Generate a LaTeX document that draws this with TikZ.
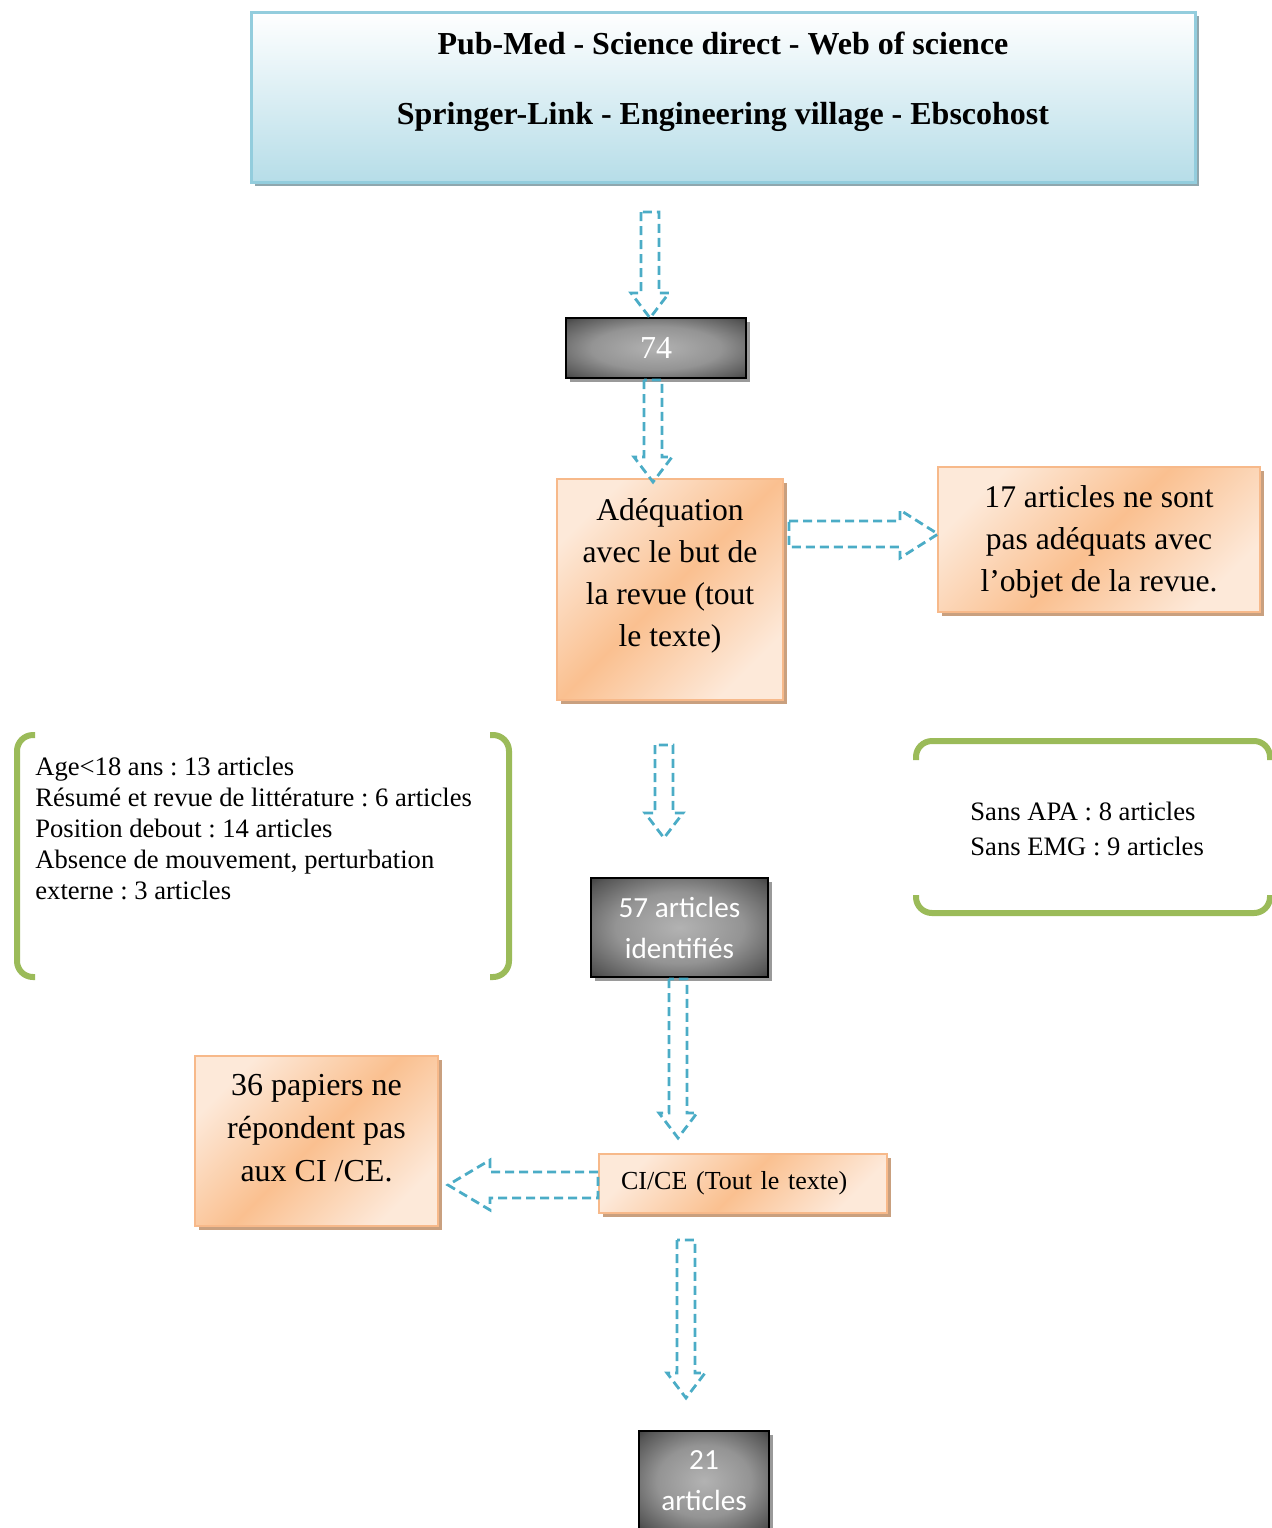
\documentclass[tikz,border=0pt]{standalone}
\usepackage{fontspec}
\setmainfont{Liberation Serif}
\newfontfamily\calibri{Carlito}
\usetikzlibrary{positioning,calc,shadows}
\definecolor{arrowblue}{HTML}{4BACC6}
\definecolor{paleorange}{HTML}{FDE9D9}
\definecolor{orangefill}{HTML}{FAC090}
\definecolor{orangeline}{HTML}{F7B98A}
\definecolor{orangeshadow}{HTML}{C9A07F}
\definecolor{skyfill}{HTML}{B6DDE8}
\definecolor{skyline}{HTML}{93CDDD}
\definecolor{skyshadow}{HTML}{8FA7AE}
\definecolor{greenbrk}{HTML}{9BBB59}
\definecolor{greyshadow}{HTML}{9A9A9A}
\pgfdeclareradialshading{darkglow}{\pgfpoint{0bp}{0bp}}{color(0bp)=(black!30); color(18bp)=(black!42); color(32bp)=(black!66); color(40bp)=(black!86); color(45bp)=(black)}
\frenchspacing

\tikzset{
  arrowline/.style={draw=arrowblue, line width=1.4pt, dash pattern=on 4.5pt off 2.5pt},
  blockdown/.style={arrowline, to path={($(\tikztostart)+(-9,0)$) -- ($(\tikztotarget)+(-9,-25)$)
      -- ($(\tikztotarget)+(-19,-25)$) -- (\tikztotarget) -- ($(\tikztotarget)+(19,-25)$)
      -- ($(\tikztotarget)+(9,-25)$) -- ($(\tikztostart)+(9,0)$) -- cycle}},
  blockright/.style={arrowline, to path={($(\tikztostart)+(0,-13)$) -- ($(\tikztotarget)+(-38,-13)$)
      -- ($(\tikztotarget)+(-38,-24)$) -- (\tikztotarget) -- ($(\tikztotarget)+(-38,24)$)
      -- ($(\tikztotarget)+(-38,13)$) -- ($(\tikztostart)+(0,13)$) -- cycle}},
  blockleft/.style={arrowline, to path={($(\tikztostart)+(0,-13)$) -- ($(\tikztotarget)+(42,-13)$)
      -- ($(\tikztotarget)+(42,-25)$) -- (\tikztotarget) -- ($(\tikztotarget)+(42,25)$)
      -- ($(\tikztotarget)+(42,13)$) -- ($(\tikztostart)+(0,13)$) -- cycle}},
  dbbox/.style={draw=skyline, line width=1.5pt, top color=white, bottom color=skyfill,
      drop shadow={shadow xshift=2pt, shadow yshift=-2pt, fill=skyshadow, opacity=1},
      align=center, inner sep=0pt, font=\bfseries\fontsize{16}{35}\selectfont},
  orangebox/.style={draw=orangeline, line width=1pt, top color=paleorange, bottom color=paleorange,
      middle color=orangefill, shading angle=45,
      drop shadow={shadow xshift=2pt, shadow yshift=-2pt, fill=orangeshadow, opacity=1},
      align=center, inner sep=0pt, font=\fontsize{15.8}{21}\selectfont},
  darkbox/.style={draw=black, line width=1pt, shading=darkglow,
      drop shadow={shadow xshift=2pt, shadow yshift=-2pt, fill=greyshadow, opacity=1},
      text=white, align=center, inner sep=0pt, font=\calibri\fontsize{14.6}{20.5}\selectfont},
  brk/.style={draw=greenbrk, line width=3pt, rounded corners=8pt},
  plaintext/.style={anchor=north west, align=left, inner sep=0pt}
}

\begin{document}
\begin{tikzpicture}[x=0.5pt, y=-0.5pt]
      \clip (0,0) rectangle (1272,1528);

      \node [dbbox, minimum width=472pt, minimum height=85pt] at (723, 97) (dbs)
            {Pub-Med - Science direct - Web of science\\Springer-Link - Engineering village - Ebscohost\rule[-18.5pt]{0pt}{18.5pt}};
      \node [darkbox, minimum width=90pt, minimum height=30pt, font=\fontsize{16}{20}\selectfont] at (656, 348) (n74) {74};
      \node [orangebox, minimum width=113pt, minimum height=110.5pt] at (670, 589.5) (adeq)
            {Adéquation\\avec le but de\\la revue (tout\\le texte)\rule[-17pt]{0pt}{17pt}};
      \node [orangebox, minimum width=161pt, minimum height=72.5pt] at (1099, 539.5) (notadeq)
            {\rule{0pt}{13.7pt}17 articles ne sont\\pas adéquats avec\\l’objet de la revue.};
      \node [darkbox, minimum width=88.5pt, minimum height=49.5pt] at (679.5, 927.5) (n57) {57 articles\\identifiés};
      \node [orangebox, anchor=west, text width=122pt, align=left, inner xsep=11pt, minimum height=29.5pt,
             font=\fontsize{13}{16}\selectfont] at (598, 1183.5) (cice) {CI/CE (Tout le texte)};
      \node [orangebox, minimum width=121.5pt, minimum height=85pt, font=\fontsize{16}{21.5}\selectfont] at (316.5, 1141) (n36)
            {36 papiers ne\\répondent pas\\aux CI /CE.\rule[-13pt]{0pt}{13pt}};
      \node [darkbox, minimum width=65pt, minimum height=50pt] at (704, 1481) (n21) {21\\articles};

      \node [plaintext, font=\fontsize{13.3}{15.5}\selectfont] at (35, 757) (excl)
            {Age<18 ans : 13 articles\\Résumé et revue de littérature : 6 articles\\Position debout : 14 articles\\Absence de mouvement, perturbation\\externe : 3 articles};
      \node [plaintext, font=\fontsize{13.3}{17.5}\selectfont] at (970, 802) (noapa)
            {Sans APA : 8 articles\\Sans EMG : 9 articles};

      \draw [brk] (35,735) -- (17,735) -- (17,977) -- (35,977);
      \draw [brk] (490,735) -- (509,735) -- (509,977) -- (490,977);
      \draw [brk] (916,760) -- (916,741) -- (1270,741) -- (1270,760);
      \draw [brk] (916,895) -- (916,913) -- (1270,913) -- (1270,895);

      \coordinate (a1s) at (650, 212);
      \coordinate (a1e) at (650, 318);
      \coordinate (a2s) at (653, 380);
      \coordinate (a2e) at (653, 482);
      \coordinate (a3s) at (789, 534);
      \coordinate (a3e) at (938, 534);
      \coordinate (a4s) at (664, 745);
      \coordinate (a4e) at (664, 838);
      \coordinate (a5s) at (678, 979);
      \coordinate (a5e) at (678, 1138);
      \coordinate (a6s) at (598, 1185);
      \coordinate (a6e) at (448, 1185);
      \coordinate (a7s) at (686, 1240);
      \coordinate (a7e) at (686, 1398);

      \draw [blockdown] (a1s) to (a1e);
      \draw [blockdown] (a2s) to (a2e);
      \draw [blockright] (a3s) to (a3e);
      \draw [blockdown] (a4s) to (a4e);
      \draw [blockdown] (a5s) to (a5e);
      \draw [blockleft] (a6s) to (a6e);
      \draw [blockdown] (a7s) to (a7e);
\end{tikzpicture}
\end{document}
